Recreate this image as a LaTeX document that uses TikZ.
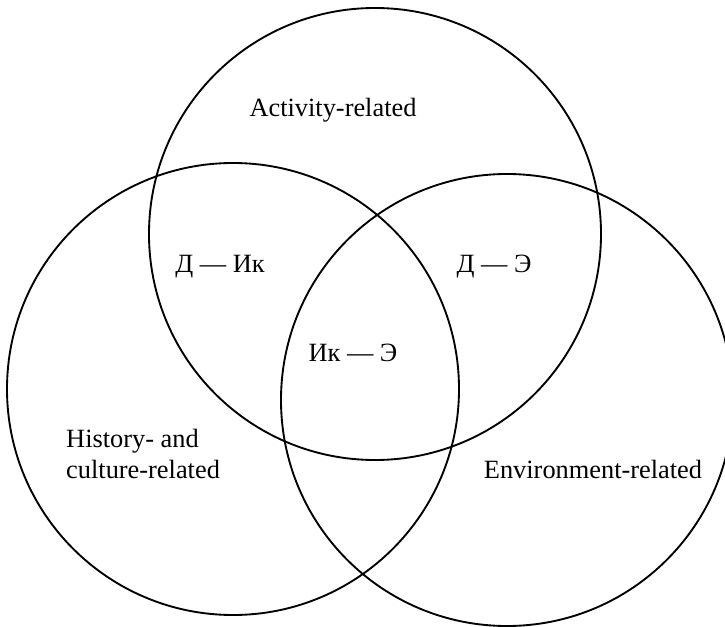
\documentclass[tikz,border=0pt]{standalone}
\usepackage{fontspec}
\setmainfont{Liberation Serif}
\usetikzlibrary{positioning}

\begin{document}
\begin{tikzpicture}[
		x=0.03cm, y=-0.03cm,
		set/.style={circle, draw, line width=1.6pt, inner sep=0pt, minimum size=13.56cm},
		lbl/.style={font=\fontsize{22.5}{26.4}\selectfont, inner sep=0pt},
	]
	\useasboundingbox (0,0) rectangle (725,627);
	\node (act)  [set] at (375, 234) {};
	\node (hist) [set] at (233, 389) {};
	\node (env)  [set] at (507, 400) {};

	% set names
	\node (actname)  [lbl, anchor=base] at (333, 117) {Activity-related};
	\node (histname) [lbl, anchor=base west, align=left] at (66, 478) {History- and\\culture-related};
	\node (envname)  [lbl, anchor=base] at (593, 478) {Environment-related};

	% overlaps
	\node (ah) [lbl, anchor=base] at (220, 273) {Д — Ик};
	\node (ae) [lbl, anchor=base] at (494, 273) {Д — Э};
	\node (he) [lbl, anchor=base] at (353, 362) {Ик — Э};
\end{tikzpicture}
\end{document}
